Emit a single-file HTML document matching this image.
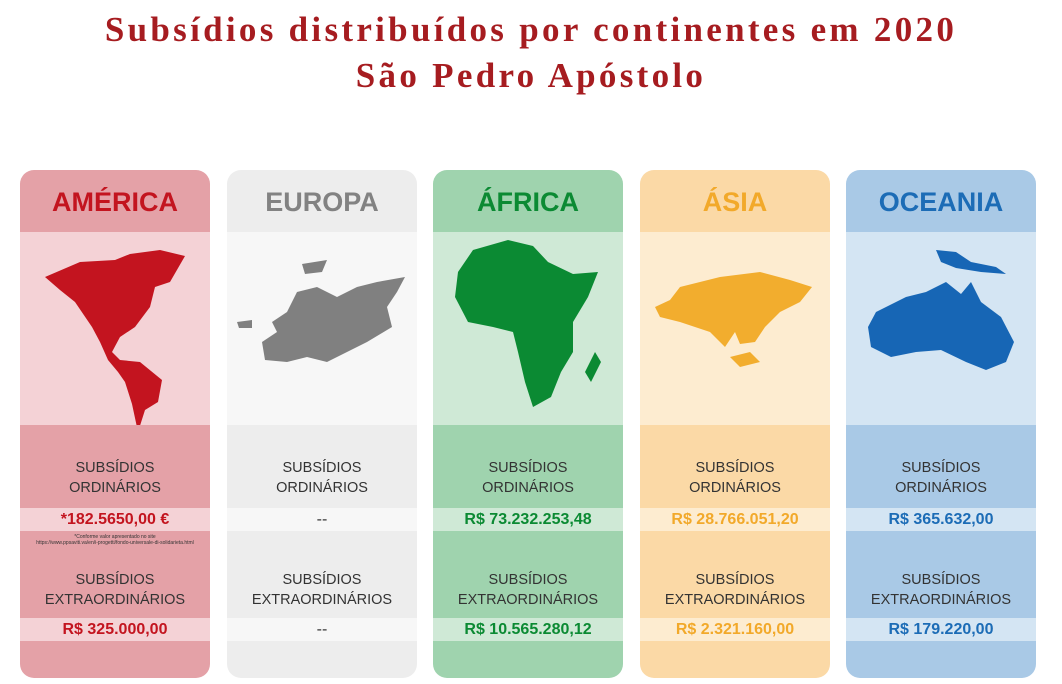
<!DOCTYPE html>
<html><head><meta charset="utf-8"><style>
body{margin:0;width:1062px;height:684px;background:#fff;font-family:"Liberation Sans",sans-serif;position:relative;overflow:hidden}
.t{position:absolute;left:0;width:1062px;text-align:center;color:#a61c20;font-family:"Liberation Serif",serif;font-weight:bold;font-size:35px;letter-spacing:3.3px}
.c{position:absolute;top:170px;width:190px;height:508px;border-radius:14px;overflow:hidden}
.c div{position:absolute;left:0;width:190px;text-align:center}
.h{top:0;height:62px;line-height:64px;font-weight:bold;font-size:27px}
.m{top:62px;height:193px}
.v{height:23px;line-height:23px;font-weight:bold;font-size:16px}
.l{font-size:14.5px;color:#333;line-height:20px}
svg{position:absolute;left:0;top:62px}
</style></head><body>
<div class="t" style="top:10px">Subsídios distribuídos por continentes em 2020</div>
<div class="t" style="top:56px">São Pedro Apóstolo</div>

<div class="c" style="left:20px;background:#e4a1a7">
<div class="m" style="background:#f4d2d6"></div>
<div class="h" style="color:#c3141f">AMÉRICA</div>
<svg width="190" height="193"><path fill="#c3141f" d="M25 45 L60 30 L95 28 L110 22 L140 18 L165 24 L150 50 L135 55 L130 75 L115 95 L100 105 L92 120 L100 128 L120 130 L142 148 L138 170 L125 178 L118 200 L112 172 L105 150 L98 140 L88 128 L80 110 L72 95 L55 70 L40 58 Z"/></svg>
<div class="l" style="top:288px">SUBSÍDIOS<br>ORDINÁRIOS</div>
<div class="v" style="top:338px;background:#f4d2d6;color:#c3141f">*182.5650,00 €</div>
<div style="top:364px;font-size:5px;color:#333;line-height:6px">*Conforme valor apresentado no site<br>https://www.ppsaviti.va/en/i-progetti/fondo-universale-di-solidarieta.html</div>
<div class="l" style="top:400px">SUBSÍDIOS<br>EXTRAORDINÁRIOS</div>
<div class="v" style="top:448px;background:#f4d2d6;color:#c3141f">R$ 325.000,00</div>
</div>

<div class="c" style="left:227px;background:#ededed">
<div class="m" style="background:#f7f7f7"></div>
<div class="h" style="color:#828282">EUROPA</div>
<svg width="190" height="193"><path fill="#808080" d="M75 32 L100 28 L95 40 L78 42 Z M150 50 L178 45 L170 60 L160 75 L165 95 L140 110 L120 120 L100 130 L80 125 L60 130 L38 128 L35 110 L50 100 L45 90 L60 80 L70 60 L90 55 L110 65 L130 55 Z M10 90 L25 88 L25 96 L12 96 Z"/></svg>
<div class="l" style="top:288px">SUBSÍDIOS<br>ORDINÁRIOS</div>
<div class="v" style="top:338px;background:#f7f7f7;color:#333;font-weight:normal">--</div>
<div class="l" style="top:400px">SUBSÍDIOS<br>EXTRAORDINÁRIOS</div>
<div class="v" style="top:448px;background:#f7f7f7;color:#333;font-weight:normal">--</div>
</div>

<div class="c" style="left:433px;background:#9fd3ae">
<div class="m" style="background:#cfe9d6"></div>
<div class="h" style="color:#0b8a33">ÁFRICA</div>
<svg width="190" height="193"><path fill="#0b8a33" d="M40 18 L75 8 L100 14 L115 30 L140 42 L165 40 L155 65 L140 90 L140 120 L128 140 L118 165 L100 175 L92 150 L85 120 L80 100 L60 95 L35 90 L22 65 L25 40 Z M162 120 L168 130 L158 150 L152 140 Z"/></svg>
<div class="l" style="top:288px">SUBSÍDIOS<br>ORDINÁRIOS</div>
<div class="v" style="top:338px;background:#cfe9d6;color:#0b8a33">R$ 73.232.253,48</div>
<div class="l" style="top:400px">SUBSÍDIOS<br>EXTRAORDINÁRIOS</div>
<div class="v" style="top:448px;background:#cfe9d6;color:#0b8a33">R$ 10.565.280,12</div>
</div>

<div class="c" style="left:640px;background:#fbd9a6">
<div class="m" style="background:#fdecd0"></div>
<div class="h" style="color:#f2a92a">ÁSIA</div>
<svg width="190" height="193"><path fill="#f2ad2e" d="M40 55 L80 45 L120 40 L150 48 L172 55 L160 70 L140 80 L125 95 L115 110 L100 112 L95 100 L85 115 L70 100 L55 95 L40 90 L20 85 L15 75 L30 68 Z M90 125 L110 120 L120 130 L100 135 Z"/></svg>
<div class="l" style="top:288px">SUBSÍDIOS<br>ORDINÁRIOS</div>
<div class="v" style="top:338px;background:#fdecd0;color:#f2a92a">R$ 28.766.051,20</div>
<div class="l" style="top:400px">SUBSÍDIOS<br>EXTRAORDINÁRIOS</div>
<div class="v" style="top:448px;background:#fdecd0;color:#f2a92a">R$ 2.321.160,00</div>
</div>

<div class="c" style="left:846px;background:#a9c9e6">
<div class="m" style="background:#d4e5f3"></div>
<div class="h" style="color:#1c6cb6">OCEANIA</div>
<svg width="190" height="193"><path fill="#1766b5" d="M90 18 L110 20 L125 30 L150 35 L160 42 L135 40 L110 36 L95 30 Z M30 80 L60 65 L80 60 L100 50 L115 62 L125 50 L135 70 L155 85 L168 110 L160 130 L140 138 L120 130 L95 118 L70 120 L45 125 L25 115 L22 95 Z"/></svg>
<div class="l" style="top:288px">SUBSÍDIOS<br>ORDINÁRIOS</div>
<div class="v" style="top:338px;background:#d4e5f3;color:#1c6cb6">R$ 365.632,00</div>
<div class="l" style="top:400px">SUBSÍDIOS<br>EXTRAORDINÁRIOS</div>
<div class="v" style="top:448px;background:#d4e5f3;color:#1c6cb6">R$ 179.220,00</div>
</div>
</body></html>
